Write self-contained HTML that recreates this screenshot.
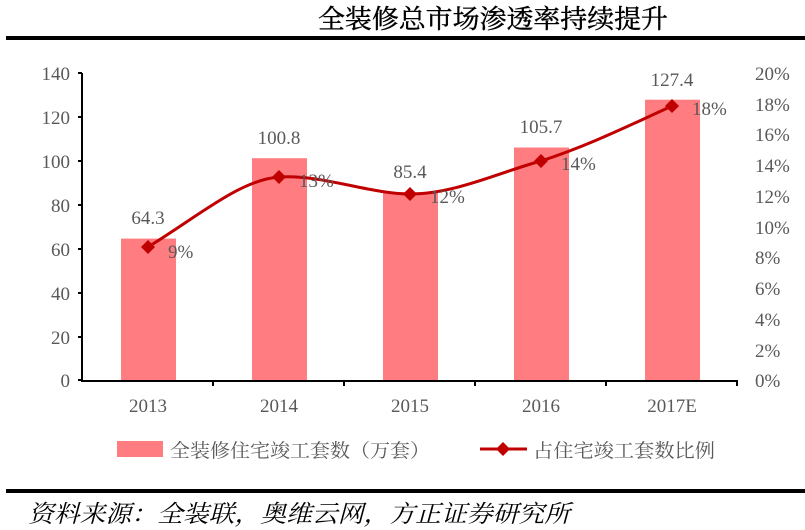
<!DOCTYPE html>
<html><head><meta charset="utf-8"><style>
body{margin:0;background:#fff;}
svg{display:block;}
</style></head><body>
<svg width="805" height="530" xmlns="http://www.w3.org/2000/svg" font-family="Liberation Serif, Noto Serif CJK SC, serif">
<text x="318" y="28" textLength="350" lengthAdjust="spacingAndGlyphs" font-size="26" fill="#000" font-family="Liberation Serif, Noto Serif CJK SC, serif" stroke="#000" stroke-width="0.4">全装修总市场渗透率持续提升</text>
<rect x="6" y="36" width="799" height="4" fill="#000"/>
<g fill="#ff7c80">
<rect x="121" y="238.6" width="55" height="141.4"/>
<rect x="252" y="158.2" width="55" height="221.8"/>
<rect x="383" y="192.1" width="55" height="187.9"/>
<rect x="514" y="147.5" width="55" height="232.5"/>
<rect x="645" y="99.7" width="55" height="280.3"/>
</g>
<g stroke="#000" stroke-width="2" fill="none">
<path d="M82,73V381H737"/>
<path d="M78,73H82M78,117H82M78,161H82M78,205H82M78,249H82M78,293H82M78,337H82M78,380H82"/>
<path d="M213,380V386M344,380V386M475,380V386M606,380V386M737,380V386"/>
</g>
<g font-size="19" fill="#595959" text-anchor="end">
<text x="70" y="80">140</text><text x="70" y="124">120</text><text x="70" y="168">100</text><text x="70" y="212">80</text><text x="70" y="256">60</text><text x="70" y="300">40</text><text x="70" y="344">20</text><text x="70" y="387">0</text>
</g>
<g font-size="19" fill="#595959">
<text x="755" y="80">20%</text><text x="755" y="111">18%</text><text x="755" y="141">16%</text><text x="755" y="172">14%</text><text x="755" y="203">12%</text><text x="755" y="234">10%</text><text x="755" y="264">8%</text><text x="755" y="295">6%</text><text x="755" y="326">4%</text><text x="755" y="357">2%</text><text x="755" y="387">0%</text>
</g>
<g font-size="19" fill="#595959" text-anchor="middle">
<text x="148" y="412">2013</text><text x="279" y="412">2014</text><text x="410" y="412">2015</text><text x="541" y="412">2016</text><text x="672" y="412">2017E</text>
<text x="148" y="224">64.3</text><text x="279" y="144">100.8</text><text x="410" y="178">85.4</text><text x="541" y="133">105.7</text><text x="672" y="86">127.4</text>
</g>
<path d="M148,247 C200,215 240,180 279,177 C320,174 370,194 410,194 C455,194 500,172 541,161 C590,145 630,125 672,106" stroke="#c00000" stroke-width="3" fill="none"/>
<g fill="#c00000">
<path d="M148,240l7,7-7,7-7-7z"/><path d="M279,170l7,7-7,7-7-7z"/><path d="M410,187l7,7-7,7-7-7z"/><path d="M541,154l7,7-7,7-7-7z"/><path d="M672,99l7,7-7,7-7-7z"/>
</g>
<g font-size="19" fill="#595959">
<text x="168" y="258">9%</text><text x="299" y="187">13%</text><text x="430" y="203">12%</text><text x="561" y="170">14%</text><text x="692" y="115">18%</text>
</g>
<rect x="117" y="441" width="46" height="16" fill="#ff7c80"/>
<text x="170" y="457" textLength="260" lengthAdjust="spacingAndGlyphs" font-size="19" fill="#595959">全装修住宅竣工套数（万套）</text>
<path d="M480,449H527" stroke="#c00000" stroke-width="3"/>
<path d="M503,442l7,7-7,7-7-7z" fill="#c00000"/>
<text x="533" y="457" textLength="182" lengthAdjust="spacingAndGlyphs" font-size="19" fill="#595959">占住宅竣工套数比例</text>
<rect x="6" y="489" width="799" height="4" fill="#000"/>
<text x="28" y="522" textLength="542" lengthAdjust="spacingAndGlyphs" font-size="24" font-style="italic" fill="#000">资料来源：全装联，奥维云网，方正证券研究所</text>
</svg>
</body></html>
